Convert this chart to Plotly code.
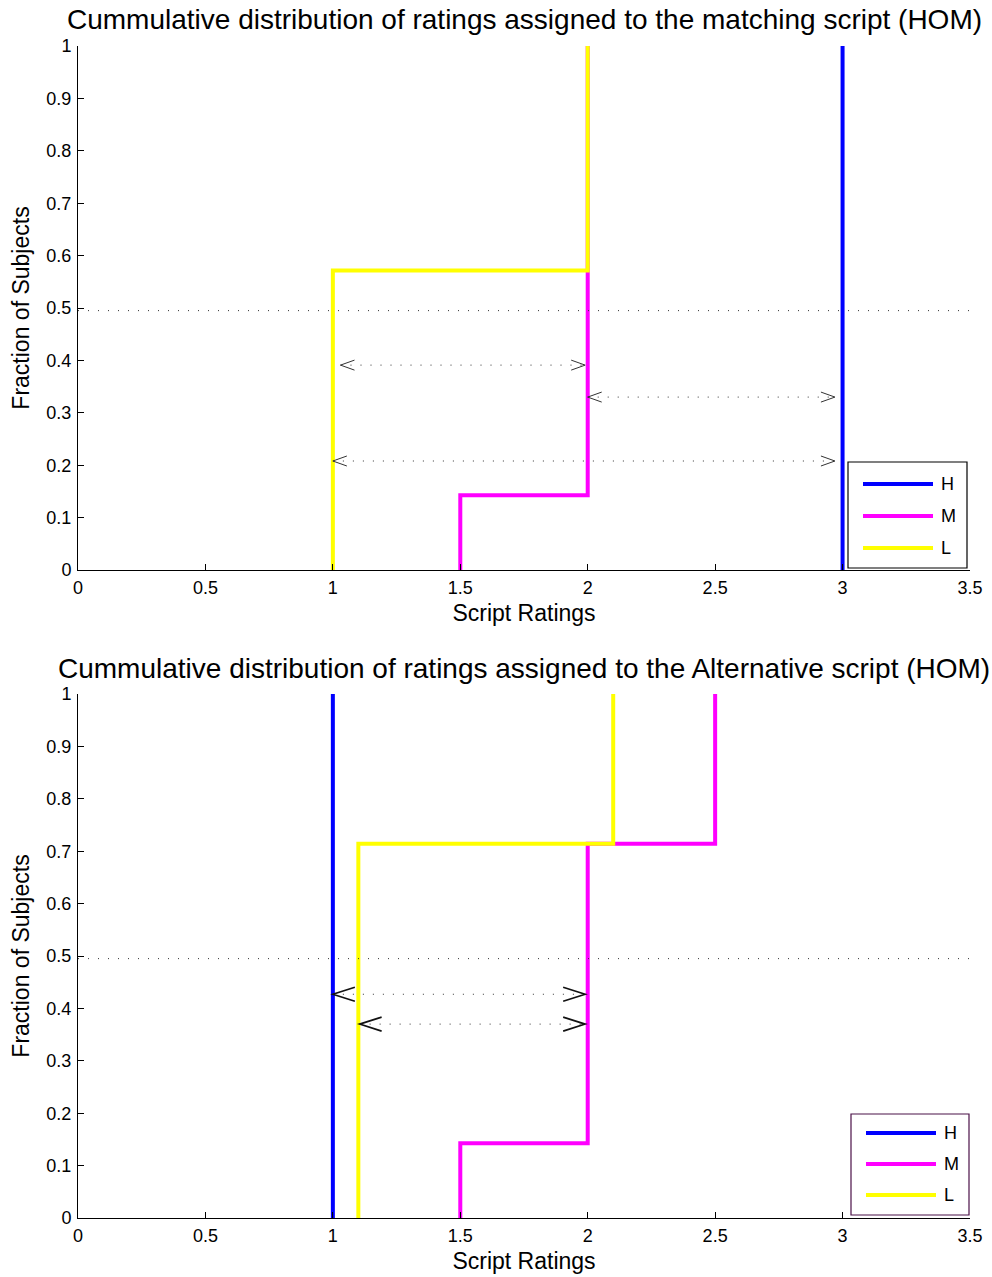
import plotly.graph_objects as go

# Ratings given by the 7 subjects, per condition
top_H = [3, 3, 3, 3, 3, 3, 3]
top_M = [1.5, 2, 2, 2, 2, 2, 2]
top_L = [1, 1, 1, 1, 2, 2, 2]
bot_H = [1, 1, 1, 1, 1, 1, 1]
bot_M = [1.5, 2, 2, 2, 2, 2.5, 2.5]
bot_L = [1.1, 1.1, 1.1, 1.1, 1.1, 2.1, 2.1]

series_names = ["H", "M", "L"]
series_colors = ["#0000FF", "#FF00FF", "#FFFF00"]

titles = [
    "Cummulative distribution of ratings assigned to the matching script (HOM)",
    "Cummulative distribution of ratings assigned to the Alternative script (HOM)",
]

# Double-headed dotted arrows: (y, x_start, x_end)
top_arrows = [(0.391, 1.03, 1.99), (0.330, 2.0, 2.97), (0.208, 1.0, 2.97)]
bot_arrows = [(0.427, 1.0, 1.99), (0.370, 1.105, 1.99)]
half_level = 0.495

x_ticks = [0, 0.5, 1, 1.5, 2, 2.5, 3, 3.5]
x_ticklabels = ["0", "0.5", "1", "1.5", "2", "2.5", "3", "3.5"]
y_ticks = [0, 0.1, 0.2, 0.3, 0.4, 0.5, 0.6, 0.7, 0.8, 0.9, 1]
y_ticklabels = ["0", "0.1", "0.2", "0.3", "0.4", "0.5", "0.6", "0.7", "0.8", "0.9", "1"]

W, H = 992, 1277
FONT = "Liberation Sans, Arial, sans-serif"


def cdf_path(ratings):
    """Staircase of the empirical CDF, from (min, 0) to (max, 1)."""
    n = len(ratings)
    xs, ys = [], []
    prev = 0.0
    for v in sorted(set(ratings)):
        c = sum(1 for r in ratings if r <= v) / n
        xs += [v, v]
        ys += [prev, c]
        prev = c
    return xs, ys


def px(x):
    return x / W


def py(y):
    return 1 - y / H


fig = go.Figure()

# legend boxes: (left, top, right, bottom, border colour, first row y, row step)
panels = [
    dict(data=[top_H, top_M, top_L], arrows=top_arrows, xa="x", ya="y",
         head=(14, 5), head_w=1, head_c="#333333",
         legend=(848, 462, 967, 568, "black", 484, 32)),
    dict(data=[bot_H, bot_M, bot_L], arrows=bot_arrows, xa="x2", ya="y2",
         head=(22, 7), head_w=1.6, head_c="#111111",
         legend=(851, 1114, 969, 1215, "#4B1248", 1133, 31)),
]

shapes = []
annotations = []
for p in panels:
    for name, color, ratings in zip(series_names, series_colors, p["data"]):
        xs, ys = cdf_path(ratings)
        fig.add_trace(go.Scatter(
            x=xs, y=ys, mode="lines", name=name, showlegend=False,
            line=dict(color=color, width=4), xaxis=p["xa"], yaxis=p["ya"],
            hoverinfo="skip",
        ))
    # 50% reference level
    fig.add_trace(go.Scatter(
        x=[0, 3.5], y=[half_level, half_level], mode="lines", showlegend=False,
        line=dict(color="#333333", width=1, dash="1px,9px"),
        xaxis=p["xa"], yaxis=p["ya"], hoverinfo="skip",
    ))
    hl, hw = p["head"]
    for (yv, x0, x1) in p["arrows"]:
        fig.add_trace(go.Scatter(
            x=[x0, x1], y=[yv, yv], mode="lines", showlegend=False,
            line=dict(color="#333333", width=1, dash="1px,9px"),
            xaxis=p["xa"], yaxis=p["ya"], hoverinfo="skip",
        ))
        for xv, sgn in ((x0, 1), (x1, -1)):
            shapes.append(dict(
                type="path", xref=p["xa"], yref=p["ya"],
                xsizemode="pixel", ysizemode="pixel", xanchor=xv, yanchor=yv,
                path=f"M {sgn*hl},{hw} L 0,0 L {sgn*hl},{-hw}",
                line=dict(color=p["head_c"], width=p["head_w"]),
            ))

    # key
    l, t, r, b, bc, row0, step = p["legend"]
    shapes.append(dict(type="rect", xref="paper", yref="paper",
                       x0=px(l), x1=px(r), y0=py(b), y1=py(t),
                       fillcolor="white", line=dict(color=bc, width=1.2)))
    for i, (name, color) in enumerate(zip(series_names, series_colors)):
        yy = row0 + i * step
        shapes.append(dict(type="line", xref="paper", yref="paper",
                           x0=px(l + 15), x1=px(l + 85), y0=py(yy), y1=py(yy),
                           line=dict(color=color, width=4)))
        annotations.append(dict(
            text=name, xref="paper", yref="paper", x=px(l + 91), y=py(yy),
            xanchor="left", yanchor="middle", showarrow=False,
            font=dict(size=18, color="black", family=FONT),
        ))

# plot-area geometry in pixels
left, right = 78, 970
top_box = (46, 570)
bot_box = (694, 1218)


def ydom(box):
    return [1 - box[1] / H, 1 - box[0] / H]


axis_common = dict(
    showline=True, linecolor="black", linewidth=1, ticks="inside", ticklen=6,
    tickcolor="black", showgrid=False, zeroline=False, mirror=False,
    automargin=False, tickfont=dict(size=18, color="black", family=FONT),
)
xtitle = dict(text="Script Ratings", font=dict(size=23, color="black", family=FONT), standoff=8)
ytitle = dict(text="Fraction of Subjects", font=dict(size=23, color="black", family=FONT), standoff=10)
xdom = [left / W, right / W]
fig.update_layout(
    xaxis=dict(domain=xdom, range=[0, 3.5], tickvals=x_ticks, ticktext=x_ticklabels,
               anchor="y", title=xtitle, ticklabelstandoff=1, **axis_common),
    yaxis=dict(domain=ydom(top_box), range=[0, 1], tickvals=y_ticks, ticktext=y_ticklabels,
               anchor="x", title=ytitle, ticklabelstandoff=2, **axis_common),
    xaxis2=dict(domain=xdom, range=[0, 3.5], tickvals=x_ticks, ticktext=x_ticklabels,
                anchor="y2", title=xtitle, ticklabelstandoff=1, **axis_common),
    yaxis2=dict(domain=ydom(bot_box), range=[0, 1], tickvals=y_ticks, ticktext=y_ticklabels,
                anchor="x2", title=ytitle, ticklabelstandoff=2, **axis_common),
)

for t, yc in zip(titles, (20, 668)):
    annotations.append(dict(
        text=t, xref="paper", yref="paper", x=(left + right) / 2 / W, y=py(yc),
        xanchor="center", yanchor="middle", showarrow=False,
        font=dict(size=28, color="black", family=FONT),
    ))

fig.update_layout(
    width=W, height=H, margin=dict(l=0, r=0, t=0, b=0),
    paper_bgcolor="white", plot_bgcolor="white",
    font=dict(family=FONT, color="black"),
    shapes=shapes, annotations=annotations, showlegend=False,
)

fig.write_html("out.html")
